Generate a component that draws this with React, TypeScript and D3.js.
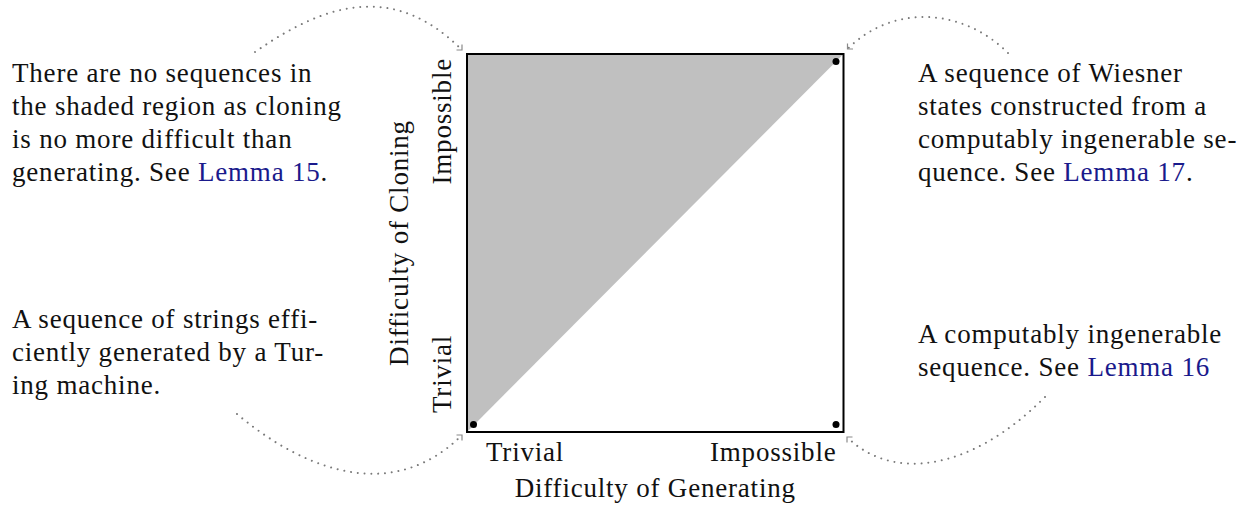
import React from "react";
import * as d3 from "d3";

// ---------- data ----------
const xTickLabels = ["Trivial", "Impossible"];
const yTickLabels = ["Trivial", "Impossible"];
const xAxisTitle = "Difficulty of Generating";
const yAxisTitle = "Difficulty of Cloning";
// shaded (empty) region: cloning harder than generating, [generating, cloning]
const shadedRegion: [number, number][] = [
  [0, 0],
  [0, 1],
  [1, 1],
];
// example sequences, [generating, cloning]
const examplePoints: [number, number][] = [
  [0, 0],
  [1, 1],
  [1, 0],
];
const noteShaded = [
  "There are no sequences in",
  "the shaded region as cloning",
  "is no more difficult than",
  "generating. See Lemma 15.",
];
const noteTuring = [
  "A sequence of strings effi-",
  "ciently generated by a Tur-",
  "ing machine.",
];
const noteWiesner = [
  "A sequence of Wiesner",
  "states constructed from a",
  "computably ingenerable se-",
  "quence. See Lemma 17.",
];
const noteIngenerable = ["A computably ingenerable", "sequence. See Lemma 16"];
const lemmaRefs = ["Lemma 15", "Lemma 16", "Lemma 17"];

// ---------- layout ----------
const W = 1239;
const H = 508;
const FONT = "'Liberation Serif', 'Times New Roman', serif";
const FS = 27;
const LS = 0.8;
const LINK = "#1a1a8c";
const LH = 33;

function NoteBlock({ lines, x, y0 }: { lines: string[]; x: number; y0: number }) {
  const re = new RegExp("(" + lemmaRefs.join("|") + ")");
  return (
    <g>
      {lines.map((ln, i) => {
        const parts = ln.split(re).filter((p) => p.length > 0);
        return (
          <text key={i} x={x} y={y0 + i * LH} fontFamily={FONT} fontSize={FS} letterSpacing={LS} fill="#111">
            {parts.map((p, j) => (
              <tspan key={j} fill={lemmaRefs.includes(p) ? LINK : "#111"}>
                {p}
              </tspan>
            ))}
          </text>
        );
      })}
    </g>
  );
}

type Curve = {
  p0: [number, number];
  a0: number; // start direction, degrees (screen)
  l0: number;
  p3: [number, number];
  a3: number; // arrival direction, degrees
  l3: number;
};

function DottedArrow({ c }: { c: Curve }) {
  const r0 = (c.a0 * Math.PI) / 180;
  const r3 = (c.a3 * Math.PI) / 180;
  const p1: [number, number] = [c.p0[0] + c.l0 * Math.cos(r0), c.p0[1] + c.l0 * Math.sin(r0)];
  const p2: [number, number] = [c.p3[0] - c.l3 * Math.cos(r3), c.p3[1] - c.l3 * Math.sin(r3)];
  const path = d3.path();
  path.moveTo(c.p0[0], c.p0[1]);
  path.bezierCurveTo(p1[0], p1[1], p2[0], p2[1], c.p3[0], c.p3[1]);
  const back = r3 + Math.PI;
  const L = 5.5;
  const armA = [c.p3[0] + L * Math.cos(back + Math.PI / 4), c.p3[1] + L * Math.sin(back + Math.PI / 4)];
  const armB = [c.p3[0] + L * Math.cos(back - Math.PI / 4), c.p3[1] + L * Math.sin(back - Math.PI / 4)];
  return (
    <g>
      <path
        d={path.toString()}
        fill="none"
        stroke="#7a7a7a"
        strokeWidth={2}
        strokeLinecap="round"
        strokeDasharray="0.01 6.8"
      />
      <path
        d={`M${armA[0]},${armA[1]} L${c.p3[0]},${c.p3[1]} L${armB[0]},${armB[1]}`}
        fill="none"
        stroke="#8a8a8a"
        strokeWidth={1.2}
      />
    </g>
  );
}

export default function App() {
  const x = d3.scaleLinear().domain([0, 1]).range([467, 843.5]);
  const y = d3.scaleLinear().domain([0, 1]).range([432, 54]);
  const line = d3.line<[number, number]>().x((d) => x(d[0])).y((d) => y(d[1]));
  const inset = 7.5;

  const curves: Curve[] = [
    { p0: [255, 52], a0: -35, l0: 92, p3: [x(0) - 5, y(1) - 4], a3: 45, l3: 92 },
    { p0: [1008, 53], a0: -135, l0: 64, p3: [x(1) + 4, y(1) - 5], a3: 135, l3: 64 },
    { p0: [237, 414], a0: 40, l0: 94, p3: [x(0) - 5, y(0) + 3], a3: -45, l3: 94 },
    { p0: [1045, 397], a0: 135, l0: 110, p3: [x(1) + 3.5, y(0) + 5], a3: -135, l3: 60 },
  ];

  return (
    <svg width={W} height={H} style={{ position: "absolute", left: 0, top: 0, background: "#fff" }}>
      <rect width={W} height={H} fill="#fff" />
      <path d={line(shadedRegion)! + "Z"} fill="#c0c0c0" stroke="none" />
      <rect
        x={x(0)}
        y={y(1)}
        width={x(1) - x(0)}
        height={y(0) - y(1)}
        fill="none"
        stroke="#000"
        strokeWidth={2}
      />
      {examplePoints.map(([g, c], i) => (
        <circle
          key={i}
          cx={x(g) + (g === 0 ? inset - 1 : -inset)}
          cy={y(c) + (c === 0 ? -inset : inset)}
          r={3.5}
          fill="#000"
        />
      ))}

      {/* x tick labels */}
      <text x={x(0) + 19} y={461} fontFamily={FONT} fontSize={FS} letterSpacing={LS} fill="#111">
        {xTickLabels[0]}
      </text>
      <text x={x(1) - 7} y={461} textAnchor="end" fontFamily={FONT} fontSize={FS} letterSpacing={LS} fill="#111">
        {xTickLabels[1]}
      </text>
      <text x={(x(0) + x(1)) / 2} y={497} textAnchor="middle" fontFamily={FONT} fontSize={FS} letterSpacing={LS} fill="#111">
        {xAxisTitle}
      </text>

      {/* y tick labels */}
      <text
        transform={`translate(${x(0) - 16},${y(0) - 19}) rotate(-90)`}
        fontFamily={FONT}
        fontSize={FS}
        letterSpacing={LS}
        fill="#111"
      >
        {yTickLabels[0]}
      </text>
      <text
        transform={`translate(${x(0) - 16},${y(1) + 4}) rotate(-90)`}
        textAnchor="end"
        fontFamily={FONT}
        fontSize={FS}
        letterSpacing={LS}
        fill="#111"
      >
        {yTickLabels[1]}
      </text>
      <text
        transform={`translate(${x(0) - 59},${(y(0) + y(1)) / 2}) rotate(-90)`}
        textAnchor="middle"
        fontFamily={FONT}
        fontSize={FS}
        letterSpacing={LS}
        fill="#111"
      >
        {yAxisTitle}
      </text>

      {curves.map((c, i) => (
        <DottedArrow key={i} c={c} />
      ))}

      <NoteBlock lines={noteShaded} x={12} y0={82} />
      <NoteBlock lines={noteTuring} x={12} y0={328} />
      <NoteBlock lines={noteWiesner} x={918} y0={82} />
      <NoteBlock lines={noteIngenerable} x={918} y0={343} />
    </svg>
  );
}
